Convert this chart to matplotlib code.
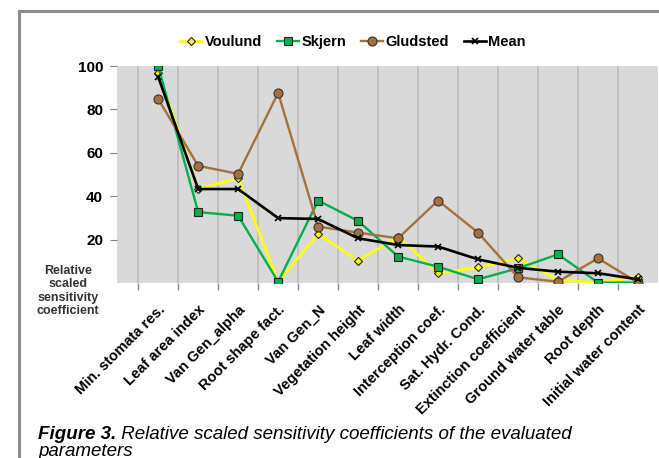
import numpy as np
import matplotlib
matplotlib.use('Agg')
import matplotlib.pyplot as plt
from matplotlib.patches import Rectangle

plt.rcParams['font.family'] = ['Liberation Sans', 'DejaVu Sans']

# parameters and relative scaled sensitivity coefficients per catchment
params = ['Min. stomata res.', 'Leaf area index', 'Van Gen_alpha', 'Root shape fact.',
          'Van Gen_N', 'Vegetation height', 'Leaf width', 'Interception coef.',
          'Sat. Hydr. Cond.', 'Extinction coefficient', 'Ground water table',
          'Root depth', 'Initial water content']
voulund = [97, 43.5, 48.3, 0.5, 22.6, 10.3, 21.4, 4.5, 7.2, 11.4, 1.4, 0.2, 2.9]
skjern = [100, 32.7, 31.0, 0.6, 38.0, 28.6, 12.2, 7.5, 1.7, 6.8, 13.2, 0.2, 0.2]
gludsted = [84.8, 54.0, 50.3, 87.6, 26.0, 23.2, 20.6, 38.0, 23.2, 2.6, 0.6, 11.4, 0.1]
mean = [95.0, 43.3, 43.3, 29.9, 29.5, 20.6, 17.5, 16.8, 10.9, 7.0, 5.2, 4.5, 1.7]
yticks = [20, 40, 60, 80, 100]

fig = plt.figure(figsize=(6.59, 4.58), dpi=100)
ax = fig.add_axes([117/659, 1 - 283/458, 541/659, 217/458])
ax.set_facecolor('#d9d9d9')

x = np.arange(len(params))
ax.plot(x, voulund, color='#ffff00', lw=1.9, marker='D', ms=4, mfc='#ffff00',
        mec='#222222', mew=0.8, label='Voulund', zorder=3)
ax.plot(x, skjern, color='#00b050', lw=1.7, marker='s', ms=6, mfc='#00b050',
        mec='#222222', mew=0.8, label='Skjern', zorder=4)
ax.plot(x, gludsted, color='#a5703d', lw=1.7, marker='o', ms=6.5, mfc='#a5703d',
        mec='#333333', mew=0.8, label='Gludsted', zorder=5)
ax.plot(x, mean, color='black', lw=1.9, marker='x', ms=5, mew=1.2,
        label='Mean', zorder=6)

ax.set_xlim(-1.03, 12.5)
ax.set_ylim(0, 100)
for s in ax.spines.values():
    s.set_visible(False)

ax.set_yticks(yticks)
ax.set_yticklabels([str(v) for v in yticks], fontsize=11, fontweight='bold')
ax.tick_params(axis='y', length=5, color='#808080', pad=5)

ax.set_xticks(x)
ax.set_xticklabels(params, rotation=45, ha='right', va='top',
                   rotation_mode='anchor', fontsize=10.5, fontweight='bold')
ax.tick_params(axis='x', which='major', length=0, pad=14)
ax.set_xticks(np.arange(-0.5, 12.5, 1), minor=True)
ax.tick_params(axis='x', which='minor', length=5, color='#8c8c8c', width=1)
ax.grid(True, axis='x', which='minor', color='#bdbdbd', lw=1.3)
ax.set_axisbelow(True)

fig.text(68/659, 1 - 291/458, 'Relative\nscaled\nsensitivity\ncoefficient',
         ha='center', va='center', fontsize=9, fontweight='bold',
         color='#333333', linespacing=1.15)

fig.legend(loc='center', bbox_to_anchor=(353/659, 1 - 42/458), ncol=4,
           frameon=False, handlelength=1.5, handletextpad=0.2,
           columnspacing=1.0, prop={'weight': 'bold', 'size': 10.5})

# caption below the chart
t1 = fig.text(38/659, 1 - 439/458, 'Figure 3.', fontsize=13.5,
              fontstyle='italic', fontweight='bold', va='baseline')
ax.annotate(' Relative scaled sensitivity coefficients of the evaluated',
            xy=(1, 0), xycoords=t1, va='bottom', ha='left', fontsize=13.5,
            fontstyle='italic', annotation_clip=False)
fig.text(38/659, 1 - 456/458, 'parameters', fontsize=13.5,
         fontstyle='italic', va='baseline')

# gray outer frame
fig.add_artist(Rectangle((19/659, -0.2), 1.2, (458 - 11)/458 + 0.2,
                         transform=fig.transFigure, fill=False,
                         ec='#8c8c8c', lw=2.2, clip_on=False))

fig.savefig('out.png', dpi=100)
